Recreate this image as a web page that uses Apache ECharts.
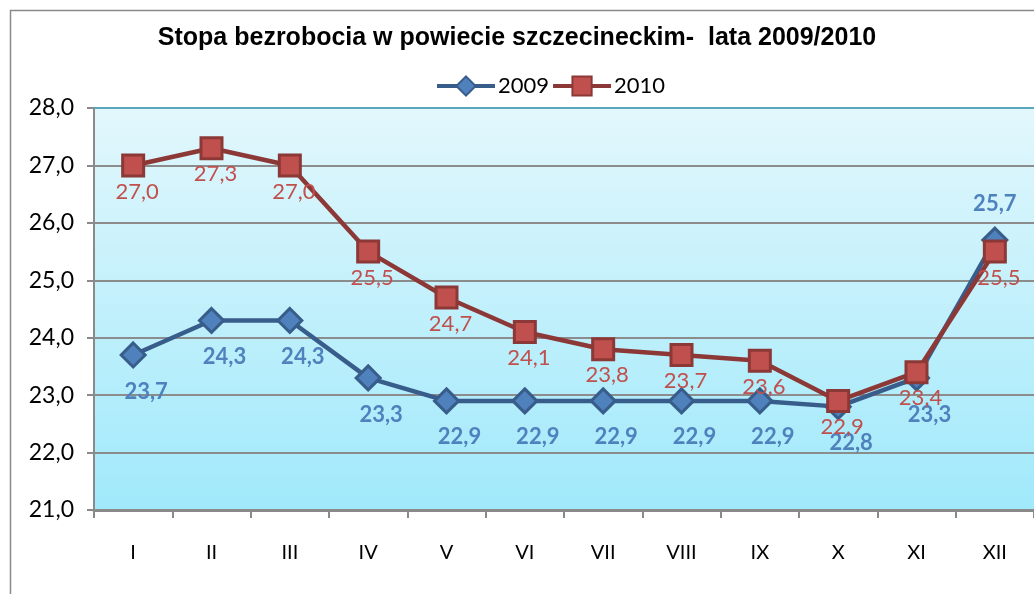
<!DOCTYPE html>
<html>
<head>
<meta charset="utf-8">
<script src="https://cdn.jsdelivr.net/npm/echarts@6/dist/echarts.min.js"></script>
<style>
  html, body { margin: 0; padding: 0; background: #fff; }
  #chart { width: 1034px; height: 594px; }
</style>
</head>
<body>
<div id="chart"></div>
<script>
const months = ['I', 'II', 'III', 'IV', 'V', 'VI', 'VII', 'VIII', 'IX', 'X', 'XI', 'XII']
const rate2009 = [23.7, 24.3, 24.3, 23.3, 22.9, 22.9, 22.9, 22.9, 22.9, 22.8, 23.3, 25.7]
const rate2010 = [27.0, 27.3, 27.0, 25.5, 24.7, 24.1, 23.8, 23.7, 23.6, 22.9, 23.4, 25.5]

const fmt = v => v.toFixed(1).replace('.', ',')
const labelFont = 'Lato, "Open Sans", sans-serif'

const chart = echarts.init(document.getElementById('chart'))

const data2009 = rate2009.map((v, i) => {
  // last point has its label above the marker
  if (i === 11) return { value: v, label: { position: 'top', distance: 12, offset: [0, 0] } }
  return v
})

const option = {
  animation: false,
  title: {
    text: 'Stopa bezrobocia w powiecie szczecineckim-  lata 2009/2010',
    left: 'center',
    top: 21,
    textStyle: {
      fontFamily: '"Liberation Sans", Arial, sans-serif',
      fontWeight: 'bold',
      fontSize: 25,
      color: '#000'
    }
  },
  legend: {
    top: 70,
    left: 430,
    itemWidth: 58,
    itemHeight: 24,
    itemGap: 2,
    lineStyle: { width: 4 },
    textStyle: { fontFamily: labelFont, fontSize: 22, color: '#000', padding: [0, 0, 0, -2] },
    data: ['2009', '2010']
  },
  graphic: [
    {
      type: 'rect',
      left: 8,
      top: 8,
      shape: { width: 1100, height: 700 },
      style: { fill: 'none', stroke: '#8a8a8a', lineWidth: 1.5 },
      z: -10
    }
  ],
  grid: {
    left: 94,
    top: 108,
    right: 0,
    bottom: 84,
    show: true,
    borderWidth: 0,
    backgroundColor: new echarts.graphic.LinearGradient(0, 0, 0, 1, [
      { offset: 0, color: '#e2f7fc' },
      { offset: 1, color: '#a0e9fb' }
    ])
  },
  xAxis: [
    {
      type: 'category',
      data: months,
      boundaryGap: true,
      axisLine: { lineStyle: { color: '#8a8a8a', width: 3 } },
      axisTick: { show: true, length: 8, lineStyle: { color: '#8a8a8a', width: 2 } },
      axisLabel: { margin: 33, fontFamily: labelFont, fontSize: 20, color: '#000' }
    },
    {
      type: 'category',
      data: months,
      position: 'top',
      axisLine: { lineStyle: { color: '#5aa6bf', width: 2 } },
      axisTick: { show: false },
      axisLabel: { show: false }
    }
  ],
  yAxis: {
    type: 'value',
    min: 21,
    max: 28,
    interval: 1,
    axisLine: { show: true, lineStyle: { color: '#8a8a8a', width: 2 } },
    axisTick: { show: true, length: 7, lineStyle: { color: '#8a8a8a', width: 2 } },
    axisLabel: {
      margin: 20,
      fontFamily: labelFont,
      fontSize: 23,
      color: '#000',
      formatter: v => fmt(v)
    },
    splitLine: { lineStyle: { color: '#8c8c8c', width: 2 } }
  },
  series: [
    {
      name: '2009',
      type: 'line',
      data: data2009,
      symbol: 'diamond',
      symbolSize: 24,
      lineStyle: { color: '#385d8a', width: 4.5 },
      itemStyle: { color: '#4f81bd', borderColor: '#385d8a', borderWidth: 3 },
      label: {
        show: true,
        position: 'bottom',
        distance: 12,
        offset: [13, 0],
        formatter: p => fmt(p.value),
        fontFamily: labelFont,
        fontWeight: 'bold',
        fontSize: 22,
        color: '#4f81bd'
      },
      z: 3
    },
    {
      name: '2010',
      type: 'line',
      data: rate2010,
      symbol: 'rect',
      symbolSize: 21,
      lineStyle: { color: '#8c3836', width: 4.5 },
      itemStyle: { color: '#c0504d', borderColor: '#8c3836', borderWidth: 3 },
      label: {
        show: true,
        position: 'bottom',
        distance: 3,
        offset: [4, 0],
        formatter: p => fmt(p.value),
        fontFamily: labelFont,
        fontSize: 22,
        color: '#c0504d'
      },
      z: 4
    }
  ]
}

chart.setOption(option)
</script>
</body>
</html>
